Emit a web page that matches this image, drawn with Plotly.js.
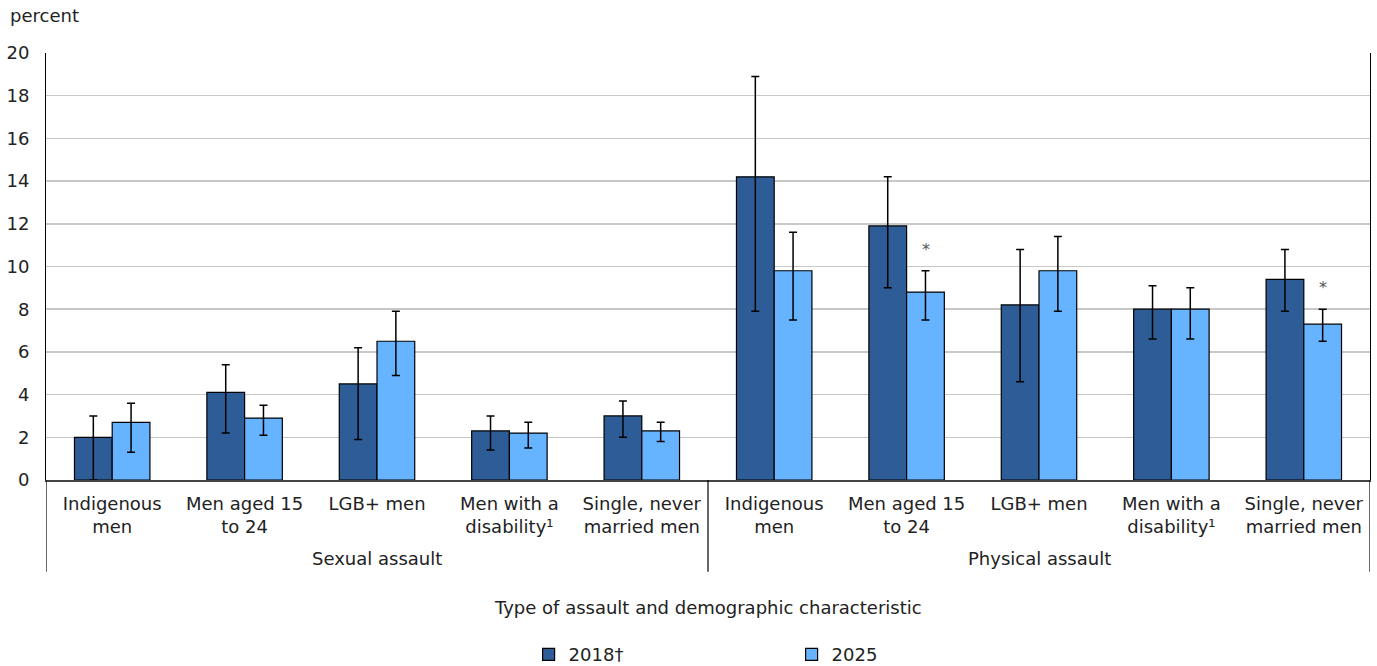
<!DOCTYPE html>
<html>
<head>
<meta charset="utf-8">
<script src="https://cdn.plot.ly/plotly-3.0.1.min.js"></script>
<style>
  html, body { margin: 0; padding: 0; background: #ffffff; }
  #chart { width: 1377px; height: 666px; }
</style>
</head>
<body>
<div id="chart"></div>
<script>
// Assault types (outer level) and demographic groups (inner level)
const assaultTypes = ["Sexual assault", "Physical assault"];
const groupLabels = [
  "Indigenous<br>men", "Men aged 15<br>to 24", "LGB+ men", "Men with a<br>disability\u00b9", "Single, never<br>married men",
  "Indigenous<br>men", "Men aged 15<br>to 24", "LGB+ men", "Men with a<br>disability\u00b9", "Single, never<br>married men"
];
const groupType = [0, 0, 0, 0, 0, 1, 1, 1, 1, 1];

// Percent of men, with 95% confidence interval bounds
const pct2018  = [2.0, 4.1, 4.5, 2.3, 3.0, 14.2, 11.9, 8.2, 8.0, 9.4];
const low2018  = [0.0, 2.2, 1.9, 1.4, 2.0,  7.9,  9.0, 4.6, 6.6, 7.9];
const high2018 = [3.0, 5.4, 6.2, 3.0, 3.7, 18.9, 14.2, 10.8, 9.1, 10.8];

const pct2025  = [2.7, 2.9, 6.5, 2.2, 2.3, 9.8, 8.8, 9.8, 8.0, 7.3];
const low2025  = [1.3, 2.1, 4.9, 1.5, 1.8, 7.5, 7.5, 7.9, 6.6, 6.5];
const high2025 = [3.6, 3.5, 7.9, 2.7, 2.7, 11.6, 9.8, 11.4, 9.0, 8.0];

// Significantly different from the reference year (2018)
const sig2025 = [false, false, false, false, false, false, true, false, false, true];

const seriesNames = ["2018\u2020", "2025"];
const seriesColors = ["#2E5C97", "#66B3FF"];

const FONT = "DejaVu Sans, Verdana, sans-serif";
const FS = 18;
const TXT = "#222222";

const xIdx = groupLabels.map((_, i) => i);

function errs(vals, lo, hi) {
  return {
    type: "data",
    symmetric: false,
    array: hi.map((h, i) => h - vals[i]),
    arrayminus: lo.map((l, i) => vals[i] - l),
    color: "#000000",
    thickness: 1.5,
    width: 4
  };
}

const traces = [
  {
    type: "bar", name: seriesNames[0], x: xIdx, y: pct2018,
    marker: { color: seriesColors[0], line: { color: "#000000", width: 1.2 } },
    error_y: errs(pct2018, low2018, high2018),
    hoverinfo: "y"
  },
  {
    type: "bar", name: seriesNames[1], x: xIdx, y: pct2025,
    marker: { color: seriesColors[1], line: { color: "#000000", width: 1.2 } },
    error_y: errs(pct2025, low2025, high2025),
    hoverinfo: "y"
  }
];

// Asterisks above the 2025 bars that differ significantly from 2018
const annotations = [];
sig2025.forEach((s, i) => {
  if (s) {
    annotations.push({
      x: i, y: high2025[i], xref: "x", yref: "y",
      text: "*", showarrow: false, xshift: 19, yshift: 10, yanchor: "bottom",
      font: { family: FONT, size: 16, color: "#555555" }
    });
  }
});

// Outer group labels, centred under their five categories
assaultTypes.forEach((name, g) => {
  const members = xIdx.filter(i => groupType[i] === g);
  const mid = (members[0] + members[members.length - 1]) / 2;
  annotations.push({
    x: mid, y: -0.183, xref: "x", yref: "paper",
    text: name, showarrow: false, xanchor: "center", yanchor: "middle",
    font: { family: FONT, size: FS, color: TXT }
  });
});

// Axis caption and unit label
annotations.push({
  x: 0.5, y: -0.298, xref: "paper", yref: "paper",
  text: "Type of assault and demographic characteristic",
  showarrow: false, xanchor: "center", yanchor: "middle",
  font: { family: FONT, size: FS, color: TXT }
});
annotations.push({
  text: "percent", xref: "paper", yref: "paper", x: -0.0285, y: 1.0885,
  xanchor: "left", yanchor: "middle", showarrow: false,
  font: { family: FONT, size: FS, color: TXT }
});

// Vertical dividers between and around the two assault types
const dividerAt = [-0.5, 4.5, 9.5];
const shapes = dividerAt.map(x => ({
  type: "line", xref: "x", yref: "paper",
  x0: x, x1: x, y0: 0, y1: -0.215,
  line: { color: "#000000", width: 1.2 }
}));

const layout = {
  width: 1377, height: 666,
  margin: { l: 46, r: 7, t: 53, b: 186 },
  paper_bgcolor: "#ffffff", plot_bgcolor: "#ffffff",
  font: { family: FONT, size: FS, color: TXT },
  barmode: "group",
  bargap: 0.43,
  bargroupgap: 0,
  showlegend: true,
  legend: {
    orientation: "h", x: 0.3645, xanchor: "left", y: 0.017, yanchor: "middle",
    xref: "paper", yref: "container",
    entrywidth: 218, entrywidthmode: "pixels",
    font: { family: FONT, size: FS, color: TXT },
    traceorder: "normal"
  },
  xaxis: {
    range: [-0.5, 9.5],
    tickmode: "array", tickvals: xIdx, ticktext: groupLabels,
    showline: true, linecolor: "#444444", linewidth: 2, mirror: false,
    showgrid: false, zeroline: false, ticks: "",
    ticklabelstandoff: 6,
    tickfont: { family: FONT, size: FS, color: TXT },
    automargin: false,
    fixedrange: true
  },
  xaxis2: {
    overlaying: "x", side: "top", showline: true, linecolor: "#000000", linewidth: 1,
    showticklabels: false, showgrid: false, zeroline: false, range: [-0.5, 9.5],
    automargin: false
  },
  yaxis: {
    range: [0, 20], dtick: 2, tick0: 0,
    showgrid: true, gridcolor: "#c8c8c8", gridwidth: 1.5,
    showline: true, linecolor: "#000000", linewidth: 1, mirror: true,
    zeroline: false, ticks: "",
    ticklabelstandoff: 12,
    tickfont: { family: FONT, size: FS, color: TXT },
    automargin: false,
    fixedrange: true
  },
  shapes: shapes,
  annotations: annotations
};

Plotly.newPlot("chart", traces, layout, { displayModeBar: false, staticPlot: true });
</script>
</body>
</html>
